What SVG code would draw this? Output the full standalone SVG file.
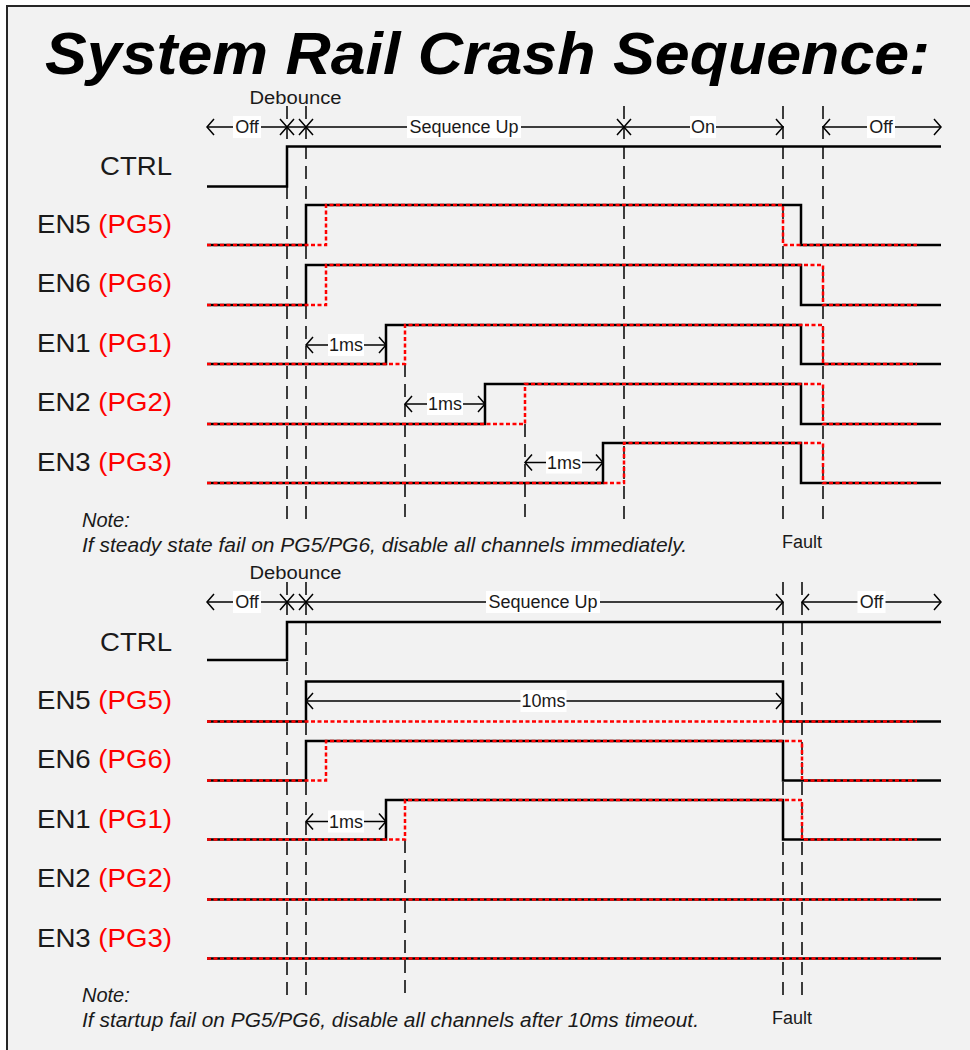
<svg xmlns="http://www.w3.org/2000/svg" width="970" height="1050" viewBox="0 0 970 1050">
<style>
.frame{fill:#f2f2f2;stroke:#262626;stroke-width:2}
.title{font-family:"Liberation Sans",Arial,sans-serif;font-weight:bold;font-style:italic;font-size:60px;fill:#000}
.sig{font-family:"Liberation Sans",Arial,sans-serif;font-size:25px;fill:#1a1a1a}
.pg{fill:#ff0000}
.lbl{font-family:"Liberation Sans",Arial,sans-serif;font-size:18px;fill:#1a1a1a;text-anchor:middle}
.deb{font-family:"Liberation Sans",Arial,sans-serif;font-size:18px;fill:#1a1a1a;text-anchor:middle}
.note{font-family:"Liberation Sans",Arial,sans-serif;font-style:italic;font-size:20px;fill:#1a1a1a}
.dash{stroke:#000;stroke-width:1.5;stroke-dasharray:13 7;fill:none}
.wave{stroke:#000;stroke-width:2.5;fill:none}
.pgw{stroke:#ff0000;stroke-width:2.5;stroke-dasharray:4 2.5;fill:none}
.arr{stroke:#000;stroke-width:1.5;fill:none;marker-start:url(#chev);marker-end:url(#chev)}
.bg{fill:#ffffff}
</style>
<defs>
<marker id="chev" markerUnits="userSpaceOnUse" markerWidth="10" markerHeight="18" refX="7" refY="8" orient="auto-start-reverse" overflow="visible">
<path d="M0,0 L7,8 L0,16" fill="none" stroke="#000" stroke-width="1.5"/>
</marker>
</defs>
<rect x="0" y="0" width="970" height="1050" fill="#ffffff"/>
<rect class="frame" x="7" y="6" width="1000" height="1100"/>
<text class="title" x="45" y="74" textLength="885" lengthAdjust="spacingAndGlyphs">System Rail Crash Sequence:</text>

<!-- ===== TOP PANEL ===== -->
<g id="top-grid">
<line class="dash" x1="287" y1="106" x2="287" y2="520"/>
<line class="dash" x1="306" y1="106" x2="306" y2="520"/>
<line class="dash" x1="405" y1="364" x2="405" y2="524"/>
<line class="dash" x1="525" y1="424" x2="525" y2="524"/>
<line class="dash" x1="624" y1="106" x2="624" y2="520"/>
<line class="dash" x1="783" y1="106" x2="783" y2="520"/>
<line class="dash" x1="823" y1="106" x2="823" y2="520"/>
</g>
<g id="top-signals">
<g id="top-ctrl"><text class="sig" x="172" y="175" text-anchor="end" textLength="72" lengthAdjust="spacingAndGlyphs">CTRL</text>
<polyline class="wave" points="207,186.5 287,186.5 287,146.5 941,146.5"/></g>
<g id="top-en5"><text class="sig" x="172" y="233" text-anchor="end" textLength="135" lengthAdjust="spacingAndGlyphs">EN5 <tspan class="pg">(PG5)</tspan></text>
<polyline class="wave" points="207,245 306,245 306,205 801,205 801,245 941,245"/>
<polyline class="pgw" points="207,245 326,245 326,205 783,205 783,245 917,245"/></g>
<g id="top-en6"><text class="sig" x="172" y="292" text-anchor="end" textLength="135" lengthAdjust="spacingAndGlyphs">EN6 <tspan class="pg">(PG6)</tspan></text>
<polyline class="wave" points="207,305 306,305 306,265 801,265 801,305 941,305"/>
<polyline class="pgw" points="207,305 326,305 326,265 823,265 823,305 917,305"/></g>
<g id="top-en1"><text class="sig" x="172" y="352" text-anchor="end" textLength="135" lengthAdjust="spacingAndGlyphs">EN1 <tspan class="pg">(PG1)</tspan></text>
<polyline class="wave" points="207,364 386,364 386,325 801,325 801,364 941,364"/>
<polyline class="pgw" points="207,364 405,364 405,325 823,325 823,364 917,364"/></g>
<g id="top-en2"><text class="sig" x="172" y="411" text-anchor="end" textLength="135" lengthAdjust="spacingAndGlyphs">EN2 <tspan class="pg">(PG2)</tspan></text>
<polyline class="wave" points="207,424 485,424 485,384 801,384 801,424 941,424"/>
<polyline class="pgw" points="207,424 525,424 525,384 823,384 823,424 917,424"/></g>
<g id="top-en3"><text class="sig" x="172" y="471" text-anchor="end" textLength="135" lengthAdjust="spacingAndGlyphs">EN3 <tspan class="pg">(PG3)</tspan></text>
<polyline class="wave" points="207,483 603,483 603,443 801,443 801,483 941,483"/>
<polyline class="pgw" points="207,483 624,483 624,443 823,443 823,483 917,483"/></g>
</g>
<g id="top-connectors">
<line class="arr" x1="207" y1="127" x2="287" y2="127"/>
<line class="arr" x1="287" y1="127" x2="306" y2="127"/>
<line class="arr" x1="306" y1="127" x2="624" y2="127"/>
<line class="arr" x1="624" y1="127" x2="783" y2="127"/>
<line class="arr" x1="823" y1="127" x2="941" y2="127"/>
<line class="arr" x1="306" y1="345" x2="386" y2="345"/>
<line class="arr" x1="405" y1="404" x2="485" y2="404"/>
<line class="arr" x1="525" y1="462.5" x2="603" y2="462.5"/>
</g>
<g id="top-labels">
<text class="deb" x="295.5" y="103.5" textLength="92" lengthAdjust="spacingAndGlyphs">Debounce</text>
<rect class="bg" x="233" y="116" width="28" height="22"/><text class="lbl" x="247" y="133">Off</text>
<rect class="bg" x="407" y="116" width="114" height="22"/><text class="lbl" x="464" y="133">Sequence Up</text>
<rect class="bg" x="690" y="116" width="26" height="22"/><text class="lbl" x="703" y="133">On</text>
<rect class="bg" x="867" y="116" width="28" height="22"/><text class="lbl" x="881" y="133">Off</text>
<rect class="bg" x="328" y="334" width="36" height="22"/><text class="lbl" x="346" y="351">1ms</text>
<rect class="bg" x="427" y="393" width="36" height="22"/><text class="lbl" x="445" y="410">1ms</text>
<rect class="bg" x="546" y="451.5" width="36" height="22"/><text class="lbl" x="564" y="468.5">1ms</text>
<text class="lbl" x="802" y="548">Fault</text>
<text class="note" x="82" y="527">Note:</text>
<text class="note" x="82" y="552" textLength="605" lengthAdjust="spacingAndGlyphs">If steady state fail on PG5/PG6, disable all channels immediately.</text>
</g>

<!-- ===== BOTTOM PANEL ===== -->
<g id="bottom-grid">
<line class="dash" x1="287" y1="582" x2="287" y2="995"/>
<line class="dash" x1="306" y1="582" x2="306" y2="995"/>
<line class="dash" x1="405" y1="840" x2="405" y2="997"/>
<line class="dash" x1="783" y1="582" x2="783" y2="995"/>
<line class="dash" x1="802" y1="582" x2="802" y2="995"/>
</g>
<g id="bottom-signals">
<g id="bot-ctrl"><text class="sig" x="172" y="651" text-anchor="end" textLength="72" lengthAdjust="spacingAndGlyphs">CTRL</text>
<polyline class="wave" points="207,660 287,660 287,622 941,622"/></g>
<g id="bot-en5"><text class="sig" x="172" y="709" text-anchor="end" textLength="135" lengthAdjust="spacingAndGlyphs">EN5 <tspan class="pg">(PG5)</tspan></text>
<polyline class="wave" points="207,721.5 306,721.5 306,681.5 783,681.5 783,721.5 941,721.5"/>
<polyline class="pgw" points="207,721.5 917,721.5"/></g>
<g id="bot-en6"><text class="sig" x="172" y="768" text-anchor="end" textLength="135" lengthAdjust="spacingAndGlyphs">EN6 <tspan class="pg">(PG6)</tspan></text>
<polyline class="wave" points="207,780.5 306,780.5 306,741 783,741 783,780.5 941,780.5"/>
<polyline class="pgw" points="207,780.5 326,780.5 326,741 802,741 802,780.5 917,780.5"/></g>
<g id="bot-en1"><text class="sig" x="172" y="828" text-anchor="end" textLength="135" lengthAdjust="spacingAndGlyphs">EN1 <tspan class="pg">(PG1)</tspan></text>
<polyline class="wave" points="207,839.5 386,839.5 386,800 783,800 783,839.5 941,839.5"/>
<polyline class="pgw" points="207,839.5 405,839.5 405,800 802,800 802,839.5 917,839.5"/></g>
<g id="bot-en2"><text class="sig" x="172" y="887" text-anchor="end" textLength="135" lengthAdjust="spacingAndGlyphs">EN2 <tspan class="pg">(PG2)</tspan></text>
<polyline class="wave" points="207,899.5 941,899.5"/>
<polyline class="pgw" points="207,899.5 917,899.5"/></g>
<g id="bot-en3"><text class="sig" x="172" y="947" text-anchor="end" textLength="135" lengthAdjust="spacingAndGlyphs">EN3 <tspan class="pg">(PG3)</tspan></text>
<polyline class="wave" points="207,958.5 941,958.5"/>
<polyline class="pgw" points="207,958.5 917,958.5"/></g>
</g>
<g id="bottom-connectors">
<line class="arr" x1="207" y1="602" x2="287" y2="602"/>
<line class="arr" x1="287" y1="602" x2="306" y2="602"/>
<line class="arr" x1="306" y1="602" x2="783" y2="602"/>
<line class="arr" x1="802" y1="602" x2="941" y2="602"/>
<line class="arr" x1="306" y1="701" x2="783" y2="701"/>
<line class="arr" x1="306" y1="821.5" x2="386" y2="821.5"/>
</g>
<g id="bottom-labels">
<text class="deb" x="295.5" y="579" textLength="92" lengthAdjust="spacingAndGlyphs">Debounce</text>
<rect class="bg" x="233" y="591" width="28" height="22"/><text class="lbl" x="247" y="608">Off</text>
<rect class="bg" x="486" y="591" width="114" height="22"/><text class="lbl" x="543" y="608">Sequence Up</text>
<rect class="bg" x="857.5" y="591" width="28" height="22"/><text class="lbl" x="871.5" y="608">Off</text>
<rect class="bg" x="520.5" y="690" width="46" height="22"/><text class="lbl" x="543.5" y="707">10ms</text>
<rect class="bg" x="328" y="810.5" width="36" height="22"/><text class="lbl" x="346" y="827.5">1ms</text>
<text class="lbl" x="792" y="1024">Fault</text>
<text class="note" x="82" y="1002">Note:</text>
<text class="note" x="82" y="1027" textLength="617" lengthAdjust="spacingAndGlyphs">If startup fail on PG5/PG6, disable all channels after 10ms timeout.</text>
</g>
</svg>
